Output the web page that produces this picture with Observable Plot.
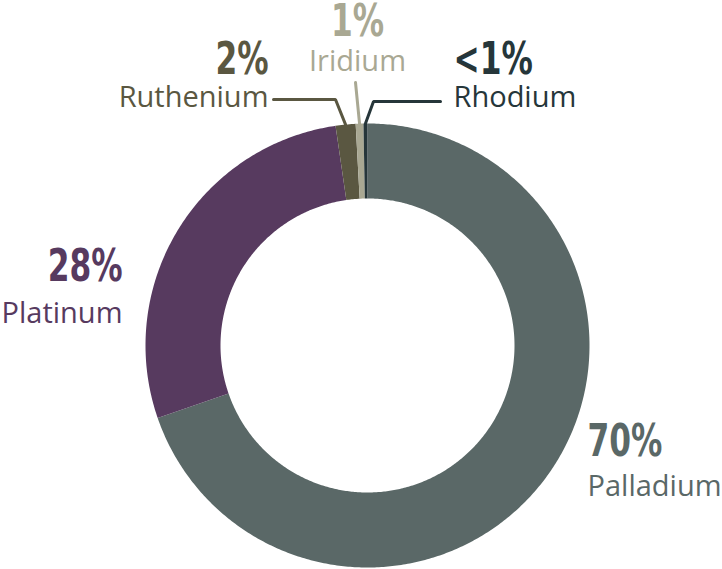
<!DOCTYPE html>
<html>
<head>
<meta charset="utf-8">
<script src="https://cdn.jsdelivr.net/npm/d3@7"></script>
<script src="https://cdn.jsdelivr.net/npm/@observablehq/plot@0.6"></script>
<style>
  html, body { margin: 0; padding: 0; background: #fff; }
  #chart svg { display: block; }
</style>
</head>
<body>
<div id="chart"></div>
<script>
// ---- data ----
const metals = ["Palladium", "Platinum", "Ruthenium", "Iridium", "Rhodium"];
const shares = [69.7, 28.0, 1.45, 0.56, 0.29];
const pctLabels = ["70%", "28%", "2%", "1%", "<1%"];
const colors = ["#5a6867", "#573a5f", "#5a5741", "#a9a893", "#26363a"];

// ---- geometry (unit space: outer radius = 1) ----
const W = 722, H = 569;
const CX = 367, CY = 345, R = 222;
const INNER = 147 / R;
const px2u = (px) => (px - CX) / R;
const py2v = (py) => (CY - py) / R;

const pie = d3.pie().sort(null).value((d) => d.share).startAngle(0).endAngle(2 * Math.PI);
const rows = metals.map((m, i) => ({metal: m, share: shares[i], pct: pctLabels[i], color: colors[i]}));
const arcs = pie(rows);

function ringPolygon(a) {
  const pts = [];
  const n = Math.max(4, Math.ceil((a.endAngle - a.startAngle) / 0.01));
  for (let k = 0; k <= n; k++) {
    const t = a.startAngle + (a.endAngle - a.startAngle) * k / n;
    pts.push({x: Math.sin(t), y: Math.cos(t)});
  }
  for (let k = n; k >= 0; k--) {
    const t = a.startAngle + (a.endAngle - a.startAngle) * k / n;
    pts.push({x: INNER * Math.sin(t), y: INNER * Math.cos(t)});
  }
  return pts;
}

// label layout (pixel anchors), per metal
const layout = {
  Palladium: {x: 587, pctY: 455, nameY: 495, anchor: "start"},
  Platinum:  {x: 122, pctY: 280, nameY: 322, anchor: "end"},
  Ruthenium: {x: 268, pctY: 73,  nameY: 106, anchor: "end", leader: [[273, 99], [335, 99]]},
  Iridium:   {x: 357, pctY: 35,  nameY: 70,  anchor: "middle", leader: [[355, 82]]},
  Rhodium:   {x: 453, pctY: 73,  nameY: 106, anchor: "start", leader: [[440, 101], [373, 101]]}
};

const marks = [];
arcs.forEach((a) => {
  marks.push(Plot.line(ringPolygon(a), {x: "x", y: "y", curve: "linear-closed", fill: a.data.color, stroke: "none"}));
});

// leader lines
arcs.forEach((a) => {
  const L = layout[a.data.metal];
  if (!L.leader) return;
  const mid = (a.startAngle + a.endAngle) / 2;
  const pts = L.leader.map(([x, y]) => ({x: px2u(x), y: py2v(y)}));
  pts.push({x: Math.sin(mid), y: Math.cos(mid)});
  marks.push(Plot.line(pts, {x: "x", y: "y", stroke: a.data.color, strokeWidth: 3, strokeLinejoin: "miter"}));
});

const labelRows = arcs.map((a) => ({...a.data, ...layout[a.data.metal]}));
["start", "end", "middle"].forEach((anchor) => {
  const sub = labelRows.filter((d) => d.anchor === anchor);
  marks.push(Plot.text(sub, {
    x: (d) => px2u(d.x), y: (d) => py2v(d.pctY), text: "pct", fill: "color",
    textAnchor: anchor, lineAnchor: "bottom",
    fontFamily: "'DejaVu Sans Condensed', 'DejaVu Sans', sans-serif",
    fontWeight: "bold", fontSize: 44
  }));
  marks.push(Plot.text(sub, {
    x: (d) => px2u(d.x), y: (d) => py2v(d.nameY), text: "metal", fill: "color",
    textAnchor: anchor, lineAnchor: "bottom",
    fontFamily: "'Open Sans', sans-serif", fontSize: 29
  }));
});

const chart = Plot.plot({
  width: W, height: H,
  margin: 0,
  x: {domain: [px2u(0), px2u(W)], axis: null},
  y: {domain: [py2v(H), py2v(0)], axis: null},
  color: {type: "identity"},
  style: {background: "#fff", overflow: "visible"},
  marks
});
// condense the bold percentage figures horizontally
const S = 0.79;
d3.select(chart).selectAll("text").each(function () {
  if (!pctLabels.includes(this.textContent)) return;
  const xa = this.getAttribute("x"), ya = this.getAttribute("y");
  const t = this.getAttribute("transform") || "";
  if (xa !== null || ya !== null) {
    const x = +(xa || 0), y = +(ya || 0);
    this.removeAttribute("x"); this.removeAttribute("y");
    this.setAttribute("transform", `${t} translate(${x},${y}) scale(${S},1)`);
  } else {
    this.setAttribute("transform", `${t} scale(${S},1)`);
  }
});
document.getElementById("chart").appendChild(chart);
</script>
</body>
</html>
